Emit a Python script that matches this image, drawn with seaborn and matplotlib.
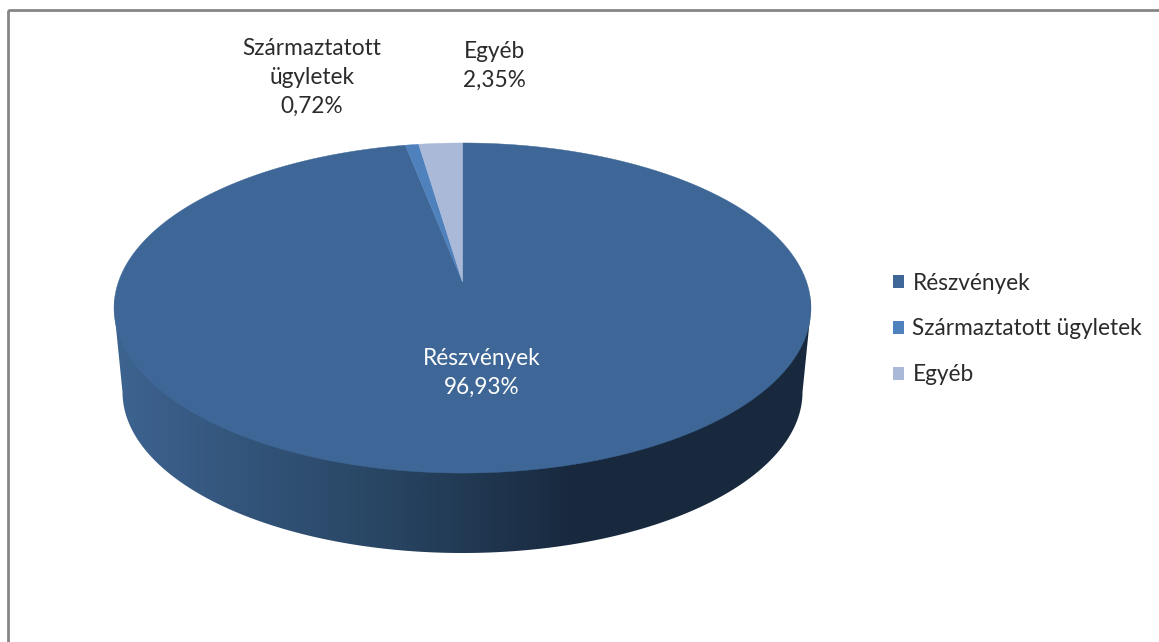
import numpy as np
import seaborn as sns
import matplotlib.pyplot as plt
from matplotlib.patches import Patch, Polygon, Rectangle
from matplotlib.transforms import Affine2D

# adatok
labels = ['Részvények', 'Származtatott ügyletek', 'Egyéb']
values = [96.93, 0.72, 2.35]
colors = ['#3e6797', '#4f81bd', '#aab9d8']
side_colors = ['#3d6390', '#274360', '#18293e', '#18293e']
side_stops = [(0.0, side_colors[0]), (0.41, side_colors[1]), (0.66, side_colors[2]), (1.0, side_colors[3])]

W, H = 1159, 642
sns.set_theme(style='white')
plt.rcParams['font.family'] = ['Lato', 'DejaVu Sans']
text_color = '#2b2b2b'


# perspektiva: egysegkor -> pixel
def project(xy):
    x, y = xy[:, 0], xy[:, 1]
    k = 0.1576
    return np.column_stack([462.5 + 344.1 * x / (1 + k * y), (282 - 116.5 * y) / (1 + k * y)])


fig = plt.figure(figsize=(W / 100, H / 100), dpi=100)
ax = fig.add_axes([0, 0, 1, 1])

wedges, _ = ax.pie(values, colors=colors, startangle=90, counterclock=False, radius=1)
ax.set_aspect('auto')
ax.axis('off')

# oldalfal szinatmenettel
theta_up = np.linspace(0, np.pi, 200)
theta_low = np.linspace(np.pi, 2 * np.pi, 200)
hull = np.vstack([
    np.column_stack([462.5 + 348.5 * np.cos(theta_up), 308 - 165 * np.sin(theta_up)]),
    np.column_stack([462.5 + 340 * np.cos(theta_low), 392 - 161 * np.sin(theta_low)]),
])
side_patch = Polygon(hull, closed=True, fc='none', ec='none', zorder=1)
ax.add_patch(side_patch)
cmap = sns.blend_palette([c for _, c in side_stops], n_colors=256, as_cmap=True)
pos = np.linspace(0, 1, 400)
grad = np.interp(pos, [s for s, _ in side_stops], np.linspace(0, 1, len(side_stops)))
img = ax.imshow(grad[None, :], cmap=cmap, vmin=0, vmax=1, extent=[114, 811, 560, 300],
                aspect='auto', zorder=1)
img.set_clip_path(side_patch)
ax.set_xlim(0, W)
ax.set_ylim(H, 0)

# a kor szeletei perspektivaban (nagyitva lapitjuk, hogy sima legyen az iv)
for w, c in zip(wedges, colors):
    path = w.get_patch_transform().transform_path(w.get_path())
    poly = path.to_polygons(Affine2D().scale(3000), closed_only=False)[0] / 3000
    w.remove()
    ax.add_patch(Polygon(project(poly), closed=True, fc=c, ec=c, lw=0.3, zorder=2))

# keret
ax.add_patch(Rectangle((8, 10), W + 50, H + 50, fc='none', ec='#868686', lw=2.0, zorder=0))


def pct(v):
    return f'{v:.2f}%'.replace('.', ',')


fs = 16.3
ls = 1.47
ax.text(482, 373, f'{labels[0]}\n{pct(values[0])}', color='white', fontsize=fs, ha='center',
        va='center', linespacing=ls, zorder=3)
ax.text(312, 77, 'Származtatott\nügyletek\n' + pct(values[1]), color=text_color, fontsize=fs,
        ha='center', va='center', linespacing=ls, zorder=3)
ax.text(494, 66, f'{labels[2]}\n{pct(values[2])}', color=text_color, fontsize=fs, ha='center',
        va='center', linespacing=ls, zorder=3)

handles = [Patch(fc=c, ec='none') for c in colors]
ax.legend(handles, labels, loc='center left', bbox_to_anchor=(893 / W, 1 - 329 / H), frameon=False,
          fontsize=fs, labelcolor=text_color, handlelength=0.5, handleheight=0.5,
          handletextpad=0.36, labelspacing=1.09, borderpad=0, borderaxespad=0)

fig.savefig('out.png', dpi=100, facecolor='white')
